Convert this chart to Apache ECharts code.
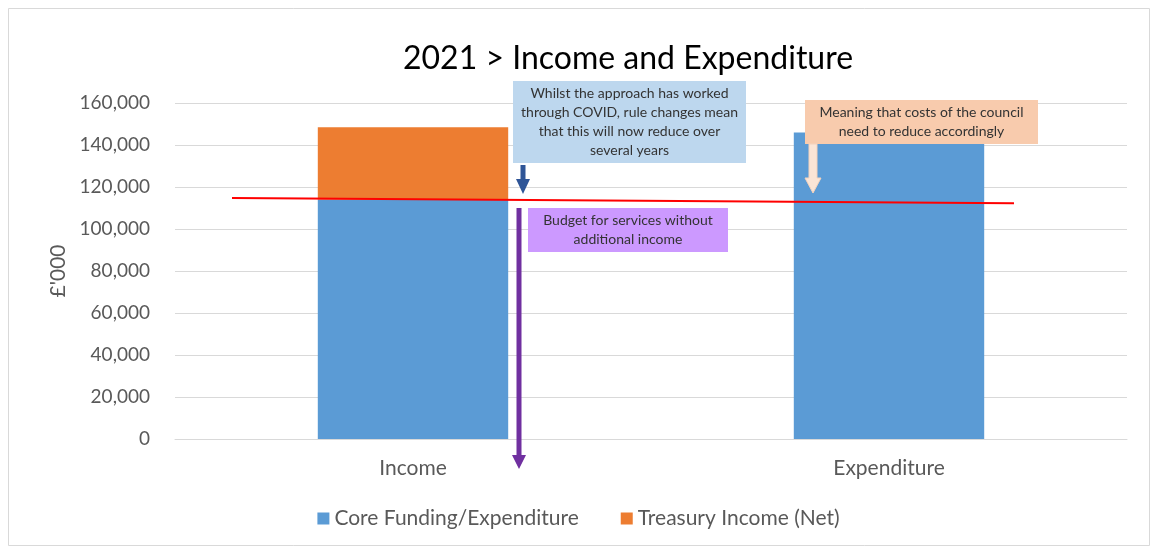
<!DOCTYPE html>
<html><head><meta charset="utf-8">
<script src="https://cdn.jsdelivr.net/npm/echarts@6/dist/echarts.min.js"></script>
<style>html,body{margin:0;padding:0;background:#fff}#c{width:1157px;height:551px}</style>
</head><body><div id="c"></div>
<script>
const categories = ['Income', 'Expenditure'];
const coreFunding = [114000, 146000];
const treasuryIncome = [34500, null];
const yTicks = [0, 20000, 40000, 60000, 80000, 100000, 120000, 140000, 160000];
const budgetLine = [114800, 112300]; // red line value at its left and right end
const notes = {
  covid: ['Whilst the approach has worked', 'through COVID, rule changes mean', 'that this will now reduce over', 'several years'],
  budget: ['Budget for services without', 'additional income'],
  costs: ['Meaning that costs of the council', 'need to reduce accordingly']
};

const FONT = 'Lato, "Open Sans", sans-serif';
const GRAY = '#595959';
const chart = echarts.init(document.getElementById('c'));
chart.setOption({
  animation: false,
  backgroundColor: '#fff',
  title: { text: '2021 > Income and Expenditure', left: 398, top: 38,
    textStyle: { fontFamily: FONT, fontSize: 32, fontWeight: 'normal', color: '#000' } },
  legend: { bottom: 17, left: 'center', itemWidth: 12, itemHeight: 12, itemGap: 42, icon: 'rect',
    textStyle: { fontFamily: FONT, fontSize: 21, color: GRAY } },
  grid: { left: 175, right: 30, top: 103, bottom: 112 },
  xAxis: { type: 'category', data: categories,
    axisLine: { lineStyle: { color: '#d9d9d9' } }, axisTick: { show: false },
    axisLabel: { fontFamily: FONT, fontSize: 21, color: GRAY, margin: 19 } },
  yAxis: { type: 'value', min: 0, max: 160000, interval: 20000,
    name: "£'000", nameLocation: 'middle', nameGap: 98, nameRotate: 90,
    nameTextStyle: { fontFamily: FONT, fontSize: 21, color: GRAY },
    axisLabel: { fontFamily: FONT, fontSize: 19, color: GRAY, margin: 25,
      formatter: v => v.toLocaleString('en-GB') },
    splitLine: { lineStyle: { color: '#d9d9d9' } } },
  series: [
    { name: 'Core Funding/Expenditure', type: 'bar', stack: 't', data: coreFunding,
      barWidth: '40%', itemStyle: { color: '#5B9BD5' } },
    { name: 'Treasury Income (Net)', type: 'bar', stack: 't', data: treasuryIncome,
      itemStyle: { color: '#ED7D31' } }
  ]
});

const y0 = chart.convertToPixel({ yAxisIndex: 0 }, budgetLine[0]);
const y1 = chart.convertToPixel({ yAxisIndex: 0 }, budgetLine[1]);

function box(x, y, w, h, fill, lines, fs, lh) {
  return [
    { type: 'rect', shape: { x, y, width: w, height: h }, style: { fill }, z: 10 },
    { type: 'text', x: x + w / 2, y: y + h / 2, z: 11,
      style: { text: lines.join('\n'), fill: '#333', font: fs + 'px ' + FONT,
        align: 'center', verticalAlign: 'middle', lineHeight: lh } }
  ];
}
function arrow(x, yTop, yTip, shaftW, headW, headH, fill, stroke) {
  return [
    { type: 'polygon', z: 12, shape: { points: [
      [x - shaftW / 2, yTop], [x + shaftW / 2, yTop], [x + shaftW / 2, yTip - headH],
      [x + headW / 2, yTip - headH], [x, yTip], [x - headW / 2, yTip - headH],
      [x - shaftW / 2, yTip - headH]] },
      style: { fill, stroke: stroke || null, lineWidth: stroke ? 1 : 0 } }
  ];
}

chart.setOption({
  graphic: [
    { type: 'rect', shape: { x: 8.5, y: 8.5, width: 1141, height: 537 }, style: { fill: null, stroke: '#d9d9d9', lineWidth: 1 }, z: 0 },
    { type: 'line', z: 9, shape: { x1: 232, y1: y0, x2: 1014, y2: y1 }, style: { stroke: '#FF0000', lineWidth: 2 } },
    ...box(513, 81, 233, 82, '#BDD7EE', notes.covid, 14, 19),
    ...arrow(523, 165, 194, 5, 14, 15, '#2F5597'),
    ...box(528, 208, 200, 44, '#CC99FF', notes.budget, 14, 19),
    ...arrow(519, 208, 469, 5, 14, 14, '#7030A0'),
    ...box(805, 100, 233, 44, '#F8CBAD', notes.costs, 14, 19),
    ...arrow(813, 144, 193, 8, 16, 15, '#FBE5D6', '#f4d2bc')
  ]
});
</script></body></html>
